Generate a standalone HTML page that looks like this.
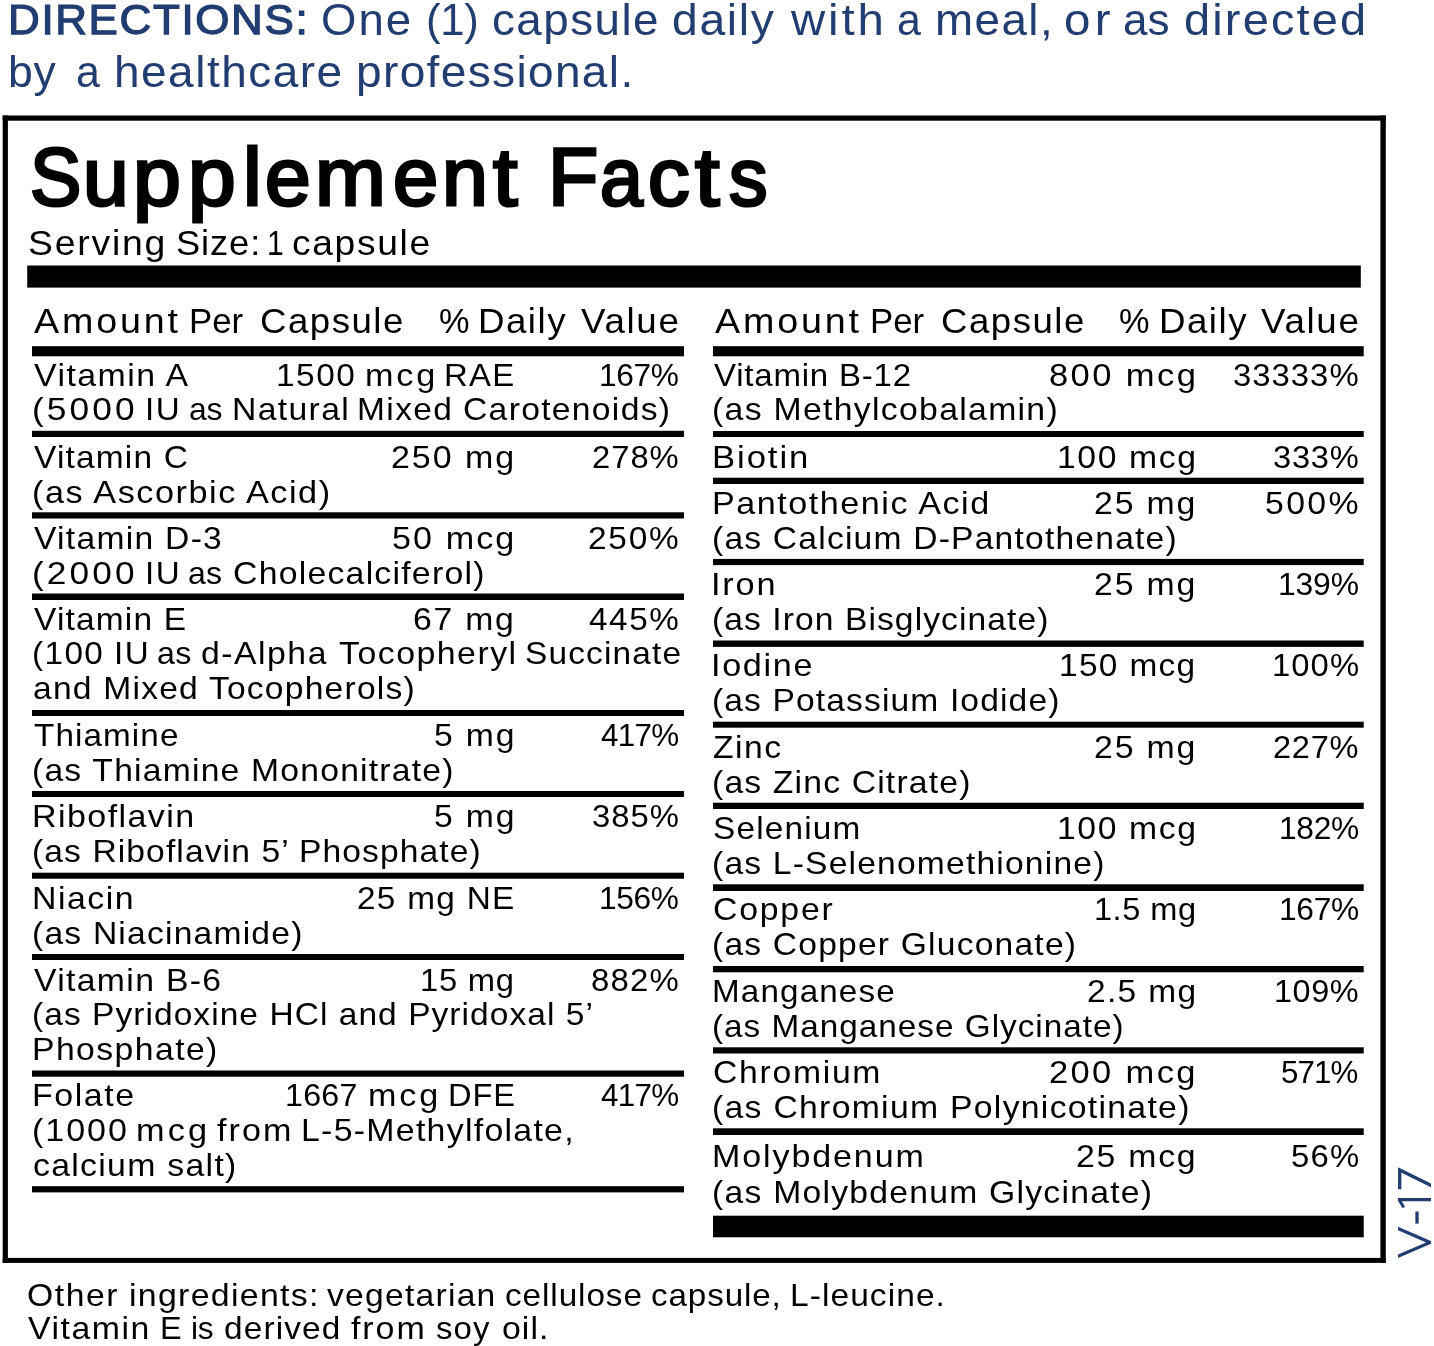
<!DOCTYPE html><html><head><meta charset='utf-8'><title>Supplement Facts</title><style>
html,body{margin:0;padding:0;background:#fff}
body{width:1434px;height:1346px;position:relative;overflow:hidden;font-family:"Liberation Sans", sans-serif;color:#000}
.t{position:absolute;white-space:pre;line-height:1;transform-origin:0 0}
.r{position:absolute;background:#000}
#w{position:absolute;left:0;top:0;width:1434px;height:1346px;filter:grayscale(0)}
</style></head><body><div id='w'>
<svg style='position:absolute;left:0;top:0' width='1434' height='1346' viewBox='0 0 1434 1346'><g fill='#000'>
<rect x='2.70' y='115.50' width='1383.10' height='5.20'/>
<rect x='2.70' y='1257.90' width='1383.10' height='5.00'/>
<rect x='2.70' y='115.50' width='5.20' height='1147.40'/>
<rect x='1380.40' y='115.50' width='5.40' height='1147.40'/>
<rect x='27.20' y='265.50' width='1333.60' height='22.10'/>
<rect x='32.00' y='346.20' width='652.00' height='10.10'/>
<rect x='32.00' y='430.80' width='652.00' height='6.20'/>
<rect x='32.00' y='512.30' width='652.00' height='6.20'/>
<rect x='32.00' y='593.50' width='652.00' height='6.50'/>
<rect x='32.00' y='710.00' width='652.00' height='6.00'/>
<rect x='32.00' y='791.00' width='652.00' height='6.00'/>
<rect x='32.00' y='872.70' width='652.00' height='6.00'/>
<rect x='32.00' y='954.00' width='652.00' height='6.00'/>
<rect x='32.00' y='1070.50' width='652.00' height='6.20'/>
<rect x='32.00' y='1186.20' width='652.00' height='6.20'/>
<rect x='713.00' y='346.20' width='650.70' height='10.10'/>
<rect x='713.00' y='431.00' width='650.70' height='6.00'/>
<rect x='713.00' y='477.70' width='650.70' height='6.30'/>
<rect x='713.00' y='558.90' width='650.70' height='6.20'/>
<rect x='713.00' y='640.50' width='650.70' height='6.40'/>
<rect x='713.00' y='721.70' width='650.70' height='6.00'/>
<rect x='713.00' y='802.70' width='650.70' height='6.30'/>
<rect x='713.00' y='884.30' width='650.70' height='6.70'/>
<rect x='713.00' y='966.00' width='650.70' height='6.30'/>
<rect x='713.00' y='1047.30' width='650.70' height='6.20'/>
<rect x='713.00' y='1128.30' width='650.70' height='6.70'/>
<rect x='713.00' y='1215.70' width='650.70' height='21.60'/>
</g></svg>
<span class='t' style='left:8.32px;top:-0.78px;font-size:42.22px;letter-spacing:1.572px;transform:scaleX(1.0412);color:#223d72;-webkit-text-stroke:1.25px #223d72'>DIRECTIONS:</span>
<span class='t' style='left:321.04px;top:-1.69px;font-size:44.04px;letter-spacing:1.947px;transform:scaleX(1.0339);color:#223d72'>One</span>
<span class='t' style='left:426.39px;top:-1.69px;font-size:44.04px;letter-spacing:-0.292px;transform:scaleX(0.9920);color:#223d72'>(1)</span>
<span class='t' style='left:491.56px;top:-1.69px;font-size:44.04px;letter-spacing:1.400px;transform:scaleX(1.0393);color:#223d72'>capsule</span>
<span class='t' style='left:671.76px;top:-1.69px;font-size:44.04px;letter-spacing:1.595px;transform:scaleX(1.0504);color:#223d72'>daily</span>
<span class='t' style='left:791.07px;top:-1.69px;font-size:44.04px;letter-spacing:2.673px;transform:scaleX(1.0762);color:#223d72'>with</span>
<span class='t' style='left:896.58px;top:-1.69px;font-size:44.04px;letter-spacing:0.000px;transform:scaleX(0.9747);color:#223d72'>a</span>
<span class='t' style='left:935.06px;top:-1.69px;font-size:44.04px;letter-spacing:1.402px;transform:scaleX(1.0385);color:#223d72'>meal,</span>
<span class='t' style='left:1064.01px;top:-1.69px;font-size:44.04px;letter-spacing:3.966px;transform:scaleX(1.0779);color:#223d72'>or</span>
<span class='t' style='left:1123.33px;top:-1.69px;font-size:44.04px;letter-spacing:0.088px;transform:scaleX(1.0014);color:#223d72'>as</span>
<span class='t' style='left:1183.93px;top:-1.69px;font-size:44.04px;letter-spacing:2.020px;transform:scaleX(1.0662);color:#223d72'>directed</span>
<span class='t' style='left:8.43px;top:50.31px;font-size:44.04px;letter-spacing:0.776px;transform:scaleX(1.0120);color:#223d72'>by</span>
<span class='t' style='left:75.58px;top:50.31px;font-size:44.04px;letter-spacing:0.000px;transform:scaleX(0.9747);color:#223d72'>a</span>
<span class='t' style='left:114.11px;top:50.31px;font-size:44.04px;letter-spacing:1.422px;transform:scaleX(1.0444);color:#223d72'>healthcare</span>
<span class='t' style='left:356.43px;top:50.31px;font-size:44.04px;letter-spacing:1.302px;transform:scaleX(1.0448);color:#223d72'>professional.</span>
<span class='t' style='left:29.71px;top:137.00px;font-size:80.67px;letter-spacing:0.000px;transform:scaleX(0.9540);-webkit-text-stroke:3.00px #000'>S</span>
<span class='t' style='left:82.88px;top:137.00px;font-size:80.67px;letter-spacing:0.000px;transform:scaleX(1.0156);-webkit-text-stroke:3.00px #000'>u</span>
<span class='t' style='left:132.65px;top:137.00px;font-size:80.67px;letter-spacing:0.000px;transform:scaleX(1.0665);-webkit-text-stroke:3.00px #000'>p</span>
<span class='t' style='left:187.67px;top:137.00px;font-size:80.67px;letter-spacing:0.000px;transform:scaleX(1.0632);-webkit-text-stroke:3.00px #000'>p</span>
<span class='t' style='left:242.55px;top:137.00px;font-size:80.67px;letter-spacing:0.000px;transform:scaleX(1.0401);-webkit-text-stroke:3.00px #000'>l</span>
<span class='t' style='left:265.21px;top:137.00px;font-size:80.67px;letter-spacing:0.000px;transform:scaleX(1.0175);-webkit-text-stroke:3.00px #000'>e</span>
<span class='t' style='left:315.06px;top:137.00px;font-size:80.67px;letter-spacing:0.000px;transform:scaleX(1.0537);-webkit-text-stroke:3.00px #000'>m</span>
<span class='t' style='left:392.75px;top:137.00px;font-size:80.67px;letter-spacing:0.000px;transform:scaleX(1.0079);-webkit-text-stroke:3.00px #000'>e</span>
<span class='t' style='left:441.82px;top:137.00px;font-size:80.67px;letter-spacing:0.000px;transform:scaleX(1.0226);-webkit-text-stroke:3.00px #000'>n</span>
<span class='t' style='left:493.17px;top:137.00px;font-size:80.67px;letter-spacing:0.000px;transform:scaleX(1.0910);-webkit-text-stroke:3.00px #000'>t</span>
<span class='t' style='left:531.50px;top:137.00px;font-size:80.67px;letter-spacing:0.000px;transform:scaleX(0.8141);-webkit-text-stroke:3.00px #000'> </span>
<span class='t' style='left:548.46px;top:137.00px;font-size:80.67px;letter-spacing:0.000px;transform:scaleX(1.0189);-webkit-text-stroke:3.00px #000'>F</span>
<span class='t' style='left:600.23px;top:137.00px;font-size:80.67px;letter-spacing:0.000px;transform:scaleX(0.9543);-webkit-text-stroke:3.00px #000'>a</span>
<span class='t' style='left:648.27px;top:137.00px;font-size:80.67px;letter-spacing:0.000px;transform:scaleX(1.0314);-webkit-text-stroke:3.00px #000'>c</span>
<span class='t' style='left:695.47px;top:137.00px;font-size:80.67px;letter-spacing:0.000px;transform:scaleX(1.0930);-webkit-text-stroke:3.00px #000'>t</span>
<span class='t' style='left:729.36px;top:137.00px;font-size:80.67px;letter-spacing:0.000px;transform:scaleX(0.9549);-webkit-text-stroke:3.00px #000'>s</span>
<span class='t' style='left:27.50px;top:224.52px;font-size:35.18px;letter-spacing:1.682px;transform:scaleX(1.0619)'>Serving</span>
<span class='t' style='left:175.75px;top:224.52px;font-size:35.18px;letter-spacing:0.863px;transform:scaleX(1.0324)'>Size:</span>
<span class='t' style='left:266.61px;top:224.52px;font-size:35.18px;letter-spacing:0.000px;transform:scaleX(0.8532)'>1</span>
<span class='t' style='left:291.92px;top:224.52px;font-size:35.18px;letter-spacing:1.587px;transform:scaleX(1.0568)'>capsule</span>
<span class='t' style='left:34.13px;top:304.06px;font-size:34.88px;letter-spacing:2.638px;transform:scaleX(1.0791)'>Amount</span>
<span class='t' style='left:189.34px;top:304.06px;font-size:34.88px;letter-spacing:-0.042px;transform:scaleX(0.9989)'>Per</span>
<span class='t' style='left:260.24px;top:304.06px;font-size:34.88px;letter-spacing:1.454px;transform:scaleX(1.0489)'>Capsule</span>
<span class='t' style='left:438.68px;top:304.06px;font-size:34.88px;letter-spacing:0.000px;transform:scaleX(0.9842)'>%</span>
<span class='t' style='left:478.49px;top:304.06px;font-size:34.88px;letter-spacing:1.399px;transform:scaleX(1.0526)'>Daily</span>
<span class='t' style='left:580.74px;top:304.06px;font-size:34.88px;letter-spacing:1.595px;transform:scaleX(1.0527)'>Value</span>
<span class='t' style='left:714.63px;top:304.06px;font-size:34.88px;letter-spacing:2.638px;transform:scaleX(1.0791)'>Amount</span>
<span class='t' style='left:869.84px;top:304.06px;font-size:34.88px;letter-spacing:-0.042px;transform:scaleX(0.9989)'>Per</span>
<span class='t' style='left:940.74px;top:304.06px;font-size:34.88px;letter-spacing:1.454px;transform:scaleX(1.0489)'>Capsule</span>
<span class='t' style='left:1119.18px;top:304.06px;font-size:34.88px;letter-spacing:0.000px;transform:scaleX(0.9842)'>%</span>
<span class='t' style='left:1158.99px;top:304.06px;font-size:34.88px;letter-spacing:1.399px;transform:scaleX(1.0526)'>Daily</span>
<span class='t' style='left:1261.24px;top:304.06px;font-size:34.88px;letter-spacing:1.595px;transform:scaleX(1.0527)'>Value</span>
<span class='t' style='left:34.35px;top:359.22px;font-size:31.98px;letter-spacing:1.384px;transform:scaleX(1.0582)'>Vitamin A</span>
<span class='t' style='left:275.95px;top:359.22px;font-size:31.98px;letter-spacing:1.465px;transform:scaleX(1.0454)'>1500</span>
<span class='t' style='left:365.03px;top:359.22px;font-size:31.98px;letter-spacing:2.716px;transform:scaleX(1.0689)'>mcg</span>
<span class='t' style='left:444.30px;top:359.22px;font-size:31.98px;letter-spacing:1.301px;transform:scaleX(1.0289)'>RAE</span>
<span class='t' style='left:598.89px;top:359.22px;font-size:31.98px;letter-spacing:-0.382px;transform:scaleX(0.9903)'>167%</span>
<span class='t' style='left:32.01px;top:393.22px;font-size:31.98px;letter-spacing:2.792px;transform:scaleX(1.1048)'>(5000</span>
<span class='t' style='left:144.64px;top:393.22px;font-size:31.98px;letter-spacing:1.417px;transform:scaleX(1.0369)'>IU</span>
<span class='t' style='left:188.65px;top:393.22px;font-size:31.98px;letter-spacing:-0.152px;transform:scaleX(0.9968)'>as</span>
<span class='t' style='left:231.53px;top:393.22px;font-size:31.98px;letter-spacing:1.271px;transform:scaleX(1.0545)'>Natural</span>
<span class='t' style='left:357.25px;top:393.22px;font-size:31.98px;letter-spacing:1.348px;transform:scaleX(1.0467)'>Mixed</span>
<span class='t' style='left:463.29px;top:393.22px;font-size:31.98px;letter-spacing:1.232px;transform:scaleX(1.0530)'>Carotenoids)</span>
<span class='t' style='left:34.35px;top:440.52px;font-size:31.98px;letter-spacing:1.137px;transform:scaleX(1.0464)'>Vitamin C</span>
<span class='t' style='left:390.99px;top:440.52px;font-size:31.98px;letter-spacing:1.843px;transform:scaleX(1.0634)'>250 mg</span>
<span class='t' style='left:592.05px;top:440.52px;font-size:31.98px;letter-spacing:0.953px;transform:scaleX(1.0247)'>278%</span>
<span class='t' style='left:32.38px;top:475.72px;font-size:31.98px;letter-spacing:1.441px;transform:scaleX(1.0699)'>(as Ascorbic Acid)</span>
<span class='t' style='left:34.35px;top:521.92px;font-size:31.98px;letter-spacing:1.217px;transform:scaleX(1.0517)'>Vitamin D-3</span>
<span class='t' style='left:391.93px;top:521.92px;font-size:31.98px;letter-spacing:1.933px;transform:scaleX(1.0678)'>50 mcg</span>
<span class='t' style='left:588.02px;top:521.92px;font-size:31.98px;letter-spacing:1.700px;transform:scaleX(1.0450)'>250%</span>
<span class='t' style='left:32.01px;top:556.82px;font-size:31.98px;letter-spacing:2.792px;transform:scaleX(1.1048)'>(2000</span>
<span class='t' style='left:144.64px;top:556.82px;font-size:31.98px;letter-spacing:1.417px;transform:scaleX(1.0369)'>IU</span>
<span class='t' style='left:188.24px;top:556.82px;font-size:31.98px;letter-spacing:0.089px;transform:scaleX(1.0019)'>as</span>
<span class='t' style='left:232.58px;top:556.82px;font-size:31.98px;letter-spacing:1.169px;transform:scaleX(1.0570)'>Cholecalciferol)</span>
<span class='t' style='left:34.35px;top:603.42px;font-size:31.98px;letter-spacing:1.131px;transform:scaleX(1.0469)'>Vitamin E</span>
<span class='t' style='left:413.29px;top:603.42px;font-size:31.98px;letter-spacing:1.680px;transform:scaleX(1.0555)'>67 mg</span>
<span class='t' style='left:588.94px;top:603.42px;font-size:31.98px;letter-spacing:1.540px;transform:scaleX(1.0401)'>445%</span>
<span class='t' style='left:32.13px;top:637.32px;font-size:31.98px;letter-spacing:1.292px;transform:scaleX(1.0444)'>(100</span>
<span class='t' style='left:113.64px;top:637.32px;font-size:31.98px;letter-spacing:1.417px;transform:scaleX(1.0369)'>IU</span>
<span class='t' style='left:156.93px;top:637.32px;font-size:31.98px;letter-spacing:0.267px;transform:scaleX(1.0057)'>as</span>
<span class='t' style='left:201.28px;top:637.32px;font-size:31.98px;letter-spacing:1.434px;transform:scaleX(1.0556)'>d-Alpha</span>
<span class='t' style='left:338.84px;top:637.32px;font-size:31.98px;letter-spacing:1.407px;transform:scaleX(1.0589)'>Tocopheryl</span>
<span class='t' style='left:525.08px;top:637.32px;font-size:31.98px;letter-spacing:1.110px;transform:scaleX(1.0450)'>Succinate</span>
<span class='t' style='left:33.07px;top:672.42px;font-size:31.98px;letter-spacing:1.161px;transform:scaleX(1.0509)'>and Mixed Tocopherols)</span>
<span class='t' style='left:33.75px;top:719.22px;font-size:31.98px;letter-spacing:1.060px;transform:scaleX(1.0398)'>Thiamine</span>
<span class='t' style='left:433.65px;top:719.22px;font-size:31.98px;letter-spacing:1.757px;transform:scaleX(1.0547)'>5 mg</span>
<span class='t' style='left:600.58px;top:719.22px;font-size:31.98px;letter-spacing:-0.732px;transform:scaleX(0.9820)'>417%</span>
<span class='t' style='left:32.41px;top:753.92px;font-size:31.98px;letter-spacing:1.155px;transform:scaleX(1.0528)'>(as Thiamine Mononitrate)</span>
<span class='t' style='left:31.71px;top:800.22px;font-size:31.98px;letter-spacing:1.348px;transform:scaleX(1.0634)'>Riboflavin</span>
<span class='t' style='left:433.65px;top:800.22px;font-size:31.98px;letter-spacing:1.757px;transform:scaleX(1.0547)'>5 mg</span>
<span class='t' style='left:591.75px;top:800.22px;font-size:31.98px;letter-spacing:1.012px;transform:scaleX(1.0262)'>385%</span>
<span class='t' style='left:32.42px;top:835.42px;font-size:31.98px;letter-spacing:1.054px;transform:scaleX(1.0505)'>(as Riboflavin 5’ Phosphate)</span>
<span class='t' style='left:31.72px;top:882.32px;font-size:31.98px;letter-spacing:1.400px;transform:scaleX(1.0587)'>Niacin</span>
<span class='t' style='left:357.32px;top:882.32px;font-size:31.98px;letter-spacing:1.235px;transform:scaleX(1.0432)'>25 mg NE</span>
<span class='t' style='left:598.89px;top:882.32px;font-size:31.98px;letter-spacing:-0.382px;transform:scaleX(0.9903)'>156%</span>
<span class='t' style='left:32.42px;top:916.92px;font-size:31.98px;letter-spacing:1.154px;transform:scaleX(1.0514)'>(as Niacinamide)</span>
<span class='t' style='left:34.35px;top:963.72px;font-size:31.98px;letter-spacing:1.273px;transform:scaleX(1.0549)'>Vitamin B-6</span>
<span class='t' style='left:420.21px;top:963.72px;font-size:31.98px;letter-spacing:0.724px;transform:scaleX(1.0234)'>15 mg</span>
<span class='t' style='left:590.87px;top:963.72px;font-size:31.98px;letter-spacing:1.177px;transform:scaleX(1.0306)'>882%</span>
<span class='t' style='left:32.42px;top:997.92px;font-size:31.98px;letter-spacing:1.005px;transform:scaleX(1.0480)'>(as Pyridoxine HCl and Pyridoxal 5’</span>
<span class='t' style='left:31.73px;top:1033.22px;font-size:31.98px;letter-spacing:1.365px;transform:scaleX(1.0543)'>Phosphate)</span>
<span class='t' style='left:31.72px;top:1078.92px;font-size:31.98px;letter-spacing:1.468px;transform:scaleX(1.0612)'>Folate</span>
<span class='t' style='left:284.85px;top:1078.92px;font-size:31.98px;letter-spacing:0.242px;transform:scaleX(1.0073)'>1667</span>
<span class='t' style='left:367.53px;top:1078.92px;font-size:31.98px;letter-spacing:2.664px;transform:scaleX(1.0674)'>mcg</span>
<span class='t' style='left:447.52px;top:1078.92px;font-size:31.98px;letter-spacing:0.900px;transform:scaleX(1.0204)'>DFE</span>
<span class='t' style='left:600.58px;top:1078.92px;font-size:31.98px;letter-spacing:-0.732px;transform:scaleX(0.9820)'>417%</span>
<span class='t' style='left:32.09px;top:1113.92px;font-size:31.98px;letter-spacing:1.811px;transform:scaleX(1.0655)'>(1000</span>
<span class='t' style='left:135.82px;top:1113.92px;font-size:31.98px;letter-spacing:2.873px;transform:scaleX(1.0731)'>mcg</span>
<span class='t' style='left:217.02px;top:1113.92px;font-size:31.98px;letter-spacing:1.934px;transform:scaleX(1.0673)'>from</span>
<span class='t' style='left:301.42px;top:1113.92px;font-size:31.98px;letter-spacing:1.211px;transform:scaleX(1.0588)'>L-5-Methylfolate,</span>
<span class='t' style='left:33.06px;top:1148.62px;font-size:31.98px;letter-spacing:1.205px;transform:scaleX(1.0585)'>calcium salt)</span>
<span class='t' style='left:714.35px;top:359.22px;font-size:31.98px;letter-spacing:0.767px;transform:scaleX(1.0321)'>Vitamin B-12</span>
<span class='t' style='left:1048.80px;top:359.22px;font-size:31.98px;letter-spacing:2.223px;transform:scaleX(1.0806)'>800 mcg</span>
<span class='t' style='left:1233.25px;top:359.22px;font-size:31.98px;letter-spacing:0.960px;transform:scaleX(1.0286)'>33333%</span>
<span class='t' style='left:712.41px;top:393.22px;font-size:31.98px;letter-spacing:1.246px;transform:scaleX(1.0556)'>(as Methylcobalamin)</span>
<span class='t' style='left:711.65px;top:440.52px;font-size:31.98px;letter-spacing:1.763px;transform:scaleX(1.0847)'>Biotin</span>
<span class='t' style='left:1056.73px;top:440.52px;font-size:31.98px;letter-spacing:1.524px;transform:scaleX(1.0544)'>100 mcg</span>
<span class='t' style='left:1273.06px;top:440.52px;font-size:31.98px;letter-spacing:0.783px;transform:scaleX(1.0201)'>333%</span>
<span class='t' style='left:711.70px;top:486.92px;font-size:31.98px;letter-spacing:1.452px;transform:scaleX(1.0663)'>Pantothenic Acid</span>
<span class='t' style='left:1094.30px;top:486.92px;font-size:31.98px;letter-spacing:1.746px;transform:scaleX(1.0578)'>25 mg</span>
<span class='t' style='left:1265.34px;top:486.92px;font-size:31.98px;letter-spacing:2.202px;transform:scaleX(1.0588)'>500%</span>
<span class='t' style='left:712.42px;top:521.82px;font-size:31.98px;letter-spacing:1.147px;transform:scaleX(1.0512)'>(as Calcium D-Pantothenate)</span>
<span class='t' style='left:711.33px;top:568.12px;font-size:31.98px;letter-spacing:1.703px;transform:scaleX(1.0730)'>Iron</span>
<span class='t' style='left:1094.30px;top:568.12px;font-size:31.98px;letter-spacing:1.746px;transform:scaleX(1.0578)'>25 mg</span>
<span class='t' style='left:1277.87px;top:568.12px;font-size:31.98px;letter-spacing:-0.159px;transform:scaleX(0.9960)'>139%</span>
<span class='t' style='left:712.42px;top:603.42px;font-size:31.98px;letter-spacing:1.024px;transform:scaleX(1.0512)'>(as Iron Bisglycinate)</span>
<span class='t' style='left:711.35px;top:649.32px;font-size:31.98px;letter-spacing:1.580px;transform:scaleX(1.0680)'>Iodine</span>
<span class='t' style='left:1059.45px;top:649.32px;font-size:31.98px;letter-spacing:1.279px;transform:scaleX(1.0453)'>150 mcg</span>
<span class='t' style='left:1271.80px;top:649.32px;font-size:31.98px;letter-spacing:1.015px;transform:scaleX(1.0267)'>100%</span>
<span class='t' style='left:712.42px;top:684.32px;font-size:31.98px;letter-spacing:1.086px;transform:scaleX(1.0498)'>(as Potassium Iodide)</span>
<span class='t' style='left:713.43px;top:730.92px;font-size:31.98px;letter-spacing:1.454px;transform:scaleX(1.0523)'>Zinc</span>
<span class='t' style='left:1094.30px;top:730.92px;font-size:31.98px;letter-spacing:1.746px;transform:scaleX(1.0578)'>25 mg</span>
<span class='t' style='left:1273.36px;top:730.92px;font-size:31.98px;letter-spacing:0.723px;transform:scaleX(1.0186)'>227%</span>
<span class='t' style='left:712.41px;top:765.72px;font-size:31.98px;letter-spacing:1.094px;transform:scaleX(1.0551)'>(as Zinc Citrate)</span>
<span class='t' style='left:712.99px;top:811.82px;font-size:31.98px;letter-spacing:1.133px;transform:scaleX(1.0425)'>Selenium</span>
<span class='t' style='left:1056.73px;top:811.82px;font-size:31.98px;letter-spacing:1.524px;transform:scaleX(1.0544)'>100 mcg</span>
<span class='t' style='left:1278.58px;top:811.82px;font-size:31.98px;letter-spacing:-0.300px;transform:scaleX(0.9924)'>182%</span>
<span class='t' style='left:712.42px;top:846.92px;font-size:31.98px;letter-spacing:1.138px;transform:scaleX(1.0509)'>(as L-Selenomethionine)</span>
<span class='t' style='left:712.78px;top:893.42px;font-size:31.98px;letter-spacing:1.679px;transform:scaleX(1.0576)'>Copper</span>
<span class='t' style='left:1093.52px;top:893.42px;font-size:31.98px;letter-spacing:0.502px;transform:scaleX(1.0183)'>1.5 mg</span>
<span class='t' style='left:1278.58px;top:893.42px;font-size:31.98px;letter-spacing:-0.300px;transform:scaleX(0.9924)'>167%</span>
<span class='t' style='left:712.42px;top:928.42px;font-size:31.98px;letter-spacing:1.153px;transform:scaleX(1.0505)'>(as Copper Gluconate)</span>
<span class='t' style='left:711.78px;top:974.72px;font-size:31.98px;letter-spacing:1.118px;transform:scaleX(1.0379)'>Manganese</span>
<span class='t' style='left:1086.62px;top:974.72px;font-size:31.98px;letter-spacing:1.276px;transform:scaleX(1.0473)'>2.5 mg</span>
<span class='t' style='left:1274.23px;top:974.72px;font-size:31.98px;letter-spacing:0.554px;transform:scaleX(1.0144)'>109%</span>
<span class='t' style='left:712.43px;top:1009.92px;font-size:31.98px;letter-spacing:0.960px;transform:scaleX(1.0415)'>(as Manganese Glycinate)</span>
<span class='t' style='left:712.79px;top:1056.42px;font-size:31.98px;letter-spacing:1.608px;transform:scaleX(1.0551)'>Chromium</span>
<span class='t' style='left:1049.26px;top:1056.42px;font-size:31.98px;letter-spacing:2.182px;transform:scaleX(1.0792)'>200 mcg</span>
<span class='t' style='left:1281.45px;top:1056.42px;font-size:31.98px;letter-spacing:-0.889px;transform:scaleX(0.9781)'>571%</span>
<span class='t' style='left:712.41px;top:1090.52px;font-size:31.98px;letter-spacing:1.218px;transform:scaleX(1.0557)'>(as Chromium Polynicotinate)</span>
<span class='t' style='left:711.71px;top:1139.92px;font-size:31.98px;letter-spacing:1.786px;transform:scaleX(1.0639)'>Molybdenum</span>
<span class='t' style='left:1076.00px;top:1139.92px;font-size:31.98px;letter-spacing:1.659px;transform:scaleX(1.0578)'>25 mcg</span>
<span class='t' style='left:1290.69px;top:1139.92px;font-size:31.98px;letter-spacing:1.208px;transform:scaleX(1.0269)'>56%</span>
<span class='t' style='left:712.41px;top:1176.32px;font-size:31.98px;letter-spacing:1.203px;transform:scaleX(1.0526)'>(as Molybdenum Glycinate)</span>
<span class='t' style='left:26.80px;top:1278.92px;font-size:31.98px;letter-spacing:1.480px;transform:scaleX(1.0534)'>Other</span>
<span class='t' style='left:128.73px;top:1278.92px;font-size:31.98px;letter-spacing:1.224px;transform:scaleX(1.0594)'>ingredients:</span>
<span class='t' style='left:326.59px;top:1278.92px;font-size:31.98px;letter-spacing:1.198px;transform:scaleX(1.0514)'>vegetarian</span>
<span class='t' style='left:504.59px;top:1278.92px;font-size:31.98px;letter-spacing:0.892px;transform:scaleX(1.0407)'>cellulose</span>
<span class='t' style='left:650.89px;top:1278.92px;font-size:31.98px;letter-spacing:0.872px;transform:scaleX(1.0368)'>capsule,</span>
<span class='t' style='left:789.95px;top:1278.92px;font-size:31.98px;letter-spacing:1.019px;transform:scaleX(1.0481)'>L-leucine.</span>
<span class='t' style='left:28.45px;top:1311.72px;font-size:31.98px;letter-spacing:1.444px;transform:scaleX(1.0589)'>Vitamin</span>
<span class='t' style='left:160.04px;top:1311.72px;font-size:31.98px;letter-spacing:0.000px;transform:scaleX(1.0154)'>E</span>
<span class='t' style='left:191.18px;top:1311.72px;font-size:31.98px;letter-spacing:-0.241px;transform:scaleX(0.9919)'>is</span>
<span class='t' style='left:223.60px;top:1311.72px;font-size:31.98px;letter-spacing:1.077px;transform:scaleX(1.0443)'>derived</span>
<span class='t' style='left:351.22px;top:1311.72px;font-size:31.98px;letter-spacing:1.811px;transform:scaleX(1.0627)'>from</span>
<span class='t' style='left:435.78px;top:1311.72px;font-size:31.98px;letter-spacing:1.106px;transform:scaleX(1.0312)'>soy</span>
<span class='t' style='left:501.88px;top:1311.72px;font-size:31.98px;letter-spacing:1.000px;transform:scaleX(1.0578)'>oil.</span>
<svg style='position:absolute;left:1398.2px;top:1160px;overflow:hidden' width='32.9' height='105' viewBox='1398.2 1160 32.9 105' aria-label='V-17'><g fill='none' stroke='#223d72' stroke-width='3.3' stroke-linejoin='miter' stroke-miterlimit='10'><path d='M1399.9 1189.3 L1399.9 1170.0 L1433 1186.2'/><path d='M1396 1199.7 L1433 1199.7'/><path d='M1399.8 1200.5 L1404.0 1207.6' stroke-width='3.0'/><path d='M1417.2 1211.5 L1417.2 1223.6'/><path d='M1395.5 1227.3 L1430.4 1242.4 L1395.5 1257.5'/></g></svg>
</div></body></html>
